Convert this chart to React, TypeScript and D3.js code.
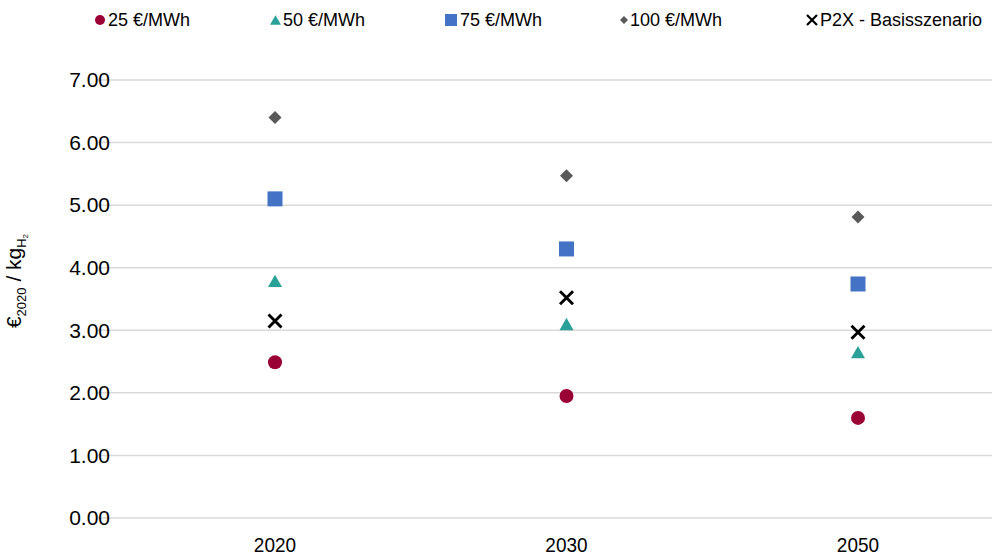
import React from "react";
import * as d3 from "d3";

const years = ["2020", "2030", "2050"];
const s25 = [2.49, 1.95, 1.6];
const s50 = [3.79, 3.1, 2.65];
const s75 = [5.1, 4.3, 3.74];
const s100 = [6.4, 5.47, 4.81];
const sP2X = [3.15, 3.52, 2.97];
const yTicks = [0, 1, 2, 3, 4, 5, 6, 7];
const legendLabels = ["25 €/MWh", "50 €/MWh", "75 €/MWh", "100 €/MWh", "P2X - Basisszenario"];

const W = 992, H = 555;
const FONT = "'Liberation Sans', Arial, sans-serif";

function Marker({ type, x, y, s }: { type: string; x: number; y: number; s: number }) {
  if (type === "circle") return <circle cx={x} cy={y} r={s / 2} fill="#9B0035" />;
  if (type === "triangle") {
    const h = s * 0.88;
    return <path d={`M${x},${y - h / 2}L${x + s / 2},${y + h / 2}L${x - s / 2},${y + h / 2}Z`} fill="#2AA198" />;
  }
  if (type === "square") return <rect x={x - s / 2} y={y - s / 2} width={s} height={s} fill="#4472C4" />;
  if (type === "diamond")
    return <path d={`M${x},${y - s / 2}L${x + s / 2},${y}L${x},${y + s / 2}L${x - s / 2},${y}Z`} fill="#595959" />;
  const a = s / 2;
  return (
    <path
      d={`M${x - a},${y - a}L${x + a},${y + a}M${x + a},${y - a}L${x - a},${y + a}`}
      stroke="#000"
      strokeWidth={s * 0.22}
      fill="none"
    />
  );
}

export default function App() {
  const y = d3.scaleLinear().domain([0, 7]).range([518, 80]);
  const x = d3.scalePoint<string>().domain(years).range([275, 858]);
  const series = [
    { type: "circle", vals: s25, size: 14 },
    { type: "triangle", vals: s50, size: 14 },
    { type: "square", vals: s75, size: 15 },
    { type: "diamond", vals: s100, size: 13 },
    { type: "cross", vals: sP2X, size: 13 },
  ];
  const legendX = [100, 275.5, 451, 624, 812];
  const legendSize = [10, 11, 12, 8, 10];
  const legendTextX = [108, 283, 460, 630, 820];
  return (
    <svg width={W} height={H} style={{ position: "absolute", left: 0, top: 0, background: "#fff" }} fontFamily={FONT}>
      {yTicks.map((t) => (
        <g key={t}>
          <line x1={98} x2={992} y1={y(t)} y2={y(t)} stroke="#D9D9D9" strokeWidth={1.5} />
          <text x={110} y={y(t)} dy="0.35em" textAnchor="end" fontSize={21} fill="#000">
            {d3.format(".2f")(t)}
          </text>
        </g>
      ))}
      {years.map((yr) => (
        <text key={yr} x={x(yr)} y={552} textAnchor="middle" fontSize={20} fill="#000" transform={`translate(${x(yr)},0) scale(0.95,1) translate(${-x(yr)!},0)`}>
          {yr}
        </text>
      ))}
      <text transform="translate(21,281) rotate(-90)" textAnchor="middle" fontSize={21} fill="#000">
        €<tspan fontSize={13} dy={5}>2020</tspan>
        <tspan dy={-5}> / kg</tspan>
        <tspan fontSize={13} dy={5}>H</tspan>
        <tspan fontSize={8} dy={2}>2</tspan>
      </text>
      {series.map((s) =>
        s.vals.map((v, i) => <Marker key={s.type + i} type={s.type} x={x(years[i])!} y={y(v)} s={s.size} />)
      )}
      {legendLabels.map((l, i) => (
        <g key={l}>
          <Marker type={series[i].type} x={legendX[i]} y={20} s={legendSize[i]} />
          <text x={legendTextX[i]} y={20} dy="0.35em" fontSize={18} fill="#000">
            {l}
          </text>
        </g>
      ))}
    </svg>
  );
}
